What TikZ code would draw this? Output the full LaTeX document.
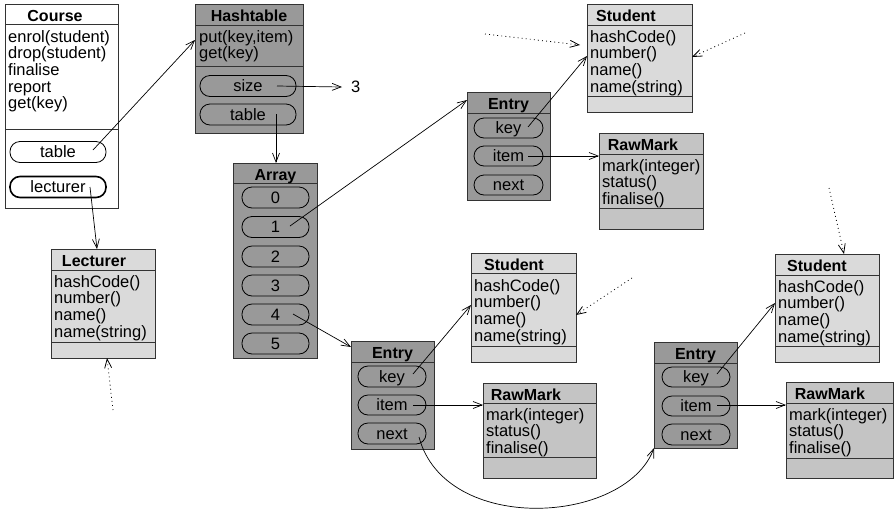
\documentclass[tikz,border=0pt]{standalone}
\usepackage{fontspec}
\setmainfont{Liberation Sans}
\usetikzlibrary{arrows.meta}
\definecolor{dk}{gray}{0.6}
\definecolor{lt}{gray}{0.855}
\definecolor{md}{gray}{0.77}
\definecolor{ln}{gray}{0.2}
\begin{document}
\begin{tikzpicture}[x=1pt,y=-1pt,
  box/.style={draw=ln, line width=1pt, inner sep=0pt, outer sep=0pt, anchor=north west},
  sepline/.style={draw=ln, line width=1pt},
  ttl/.style={font=\bfseries\fontsize{16}{17}\selectfont, anchor=base, inner sep=0pt},
  body/.style={font=\fontsize{16.5}{16.7}\selectfont, anchor=base west, align=left, inner sep=0pt},
  pill/.style={draw=black, line width=0.8pt, rounded corners=10pt, minimum height=21pt,
    inner sep=0pt, text height=12pt, text depth=1pt, font=\fontsize{16.5}{16.7}\selectfont},
  conn/.style={line width=0.7pt, -{Straight Barb[length=9pt,width=7pt]}},
  dotconn/.style={line width=0.8pt, dash pattern=on 0.9pt off 3.2pt, -{Straight Barb[length=9pt,width=7pt]}}
]
\useasboundingbox (0,0) rectangle (894,512);

% ---------- Course ----------
\node[box, fill=white, minimum width=113pt, minimum height=204pt] (course) at (5,4) {};
\draw[sepline] (5,24) -- (118,24);
\draw[sepline] (5,129) -- (118,129);
\node[ttl] (courseT) at (55,21) {Course};
\node[body] (courseB) at (8,108.8) {enrol(student)\\drop(student)\\finalise\\report\\get(key)};
\node[pill, minimum width=96pt] (ctable) at (58,152) {table};
\node[pill, minimum width=96pt, line width=1.6pt] (clect) at (58,187) {lecturer};

% ---------- Hashtable ----------
\node[box, fill=dk, minimum width=108pt, minimum height=129pt] (ht) at (195,4) {};
\draw[sepline] (195,25) -- (303,25);
\draw[sepline] (195,66) -- (303,66);
\node[ttl] (htT) at (249,21) {Hashtable};
\node[body] (htB) at (199,58.7) {put(key,item)\\get(key)};
\node[pill, minimum width=96pt] (hsize) at (248,86) {size};
\node[pill, minimum width=96pt] (htable) at (248,114.5) {table};
\node[font=\fontsize{16.5}{16.7}\selectfont, anchor=west, inner sep=0pt] (three) at (351,87) {3};

% ---------- Array ----------
\node[box, fill=dk, minimum width=84pt, minimum height=195pt] (arr) at (233,163) {};
\draw[sepline] (233,183) -- (317,183);
\node[ttl] (arrT) at (275.5,180) {Array};
\node[pill, minimum width=67pt] (a0) at (275.5,197.5) {0};
\node[pill, minimum width=67pt] (a1) at (275.5,227) {1};
\node[pill, minimum width=67pt] (a2) at (275.5,256.5) {2};
\node[pill, minimum width=67pt] (a3) at (275.5,285.5) {3};
\node[pill, minimum width=67pt] (a4) at (275.5,314.5) {4};
\node[pill, minimum width=67pt] (a5) at (275.5,343.5) {5};

% ---------- Lecturer ----------
\node[box, fill=lt, minimum width=104pt, minimum height=109pt] (lect) at (51,249) {};
\draw[sepline] (51,270) -- (155,270);
\draw[sepline] (51,342) -- (155,342);
\node[ttl] (lectT) at (94,266) {Lecturer};
\node[body] (lectB) at (54,337.1) {hashCode()\\number()\\name()\\name(string)};

% ---------- Entry 1 ----------
\node[box, fill=dk, minimum width=83pt, minimum height=108pt] (ent1) at (467,92) {};
\draw[sepline] (467,113) -- (550,113);
\node[ttl] (ent1T) at (508.5,109) {Entry};
\node[pill, minimum width=69pt, minimum height=20pt] (k1) at (508.5,128) {key};
\node[pill, minimum width=69pt, minimum height=20pt] (i1) at (508.5,156) {item};
\node[pill, minimum width=69pt, minimum height=20pt] (n1) at (508.5,185) {next};

% ---------- Student 1 ----------
\node[box, fill=lt, minimum width=105pt, minimum height=108pt] (stu1) at (587,4) {};
\draw[sepline] (587,25) -- (692,25);
\draw[sepline] (587,96) -- (692,96);
\node[ttl] (stu1T) at (626,21) {Student};
\node[body] (stu1B) at (590,92.1) {hashCode()\\number()\\name()\\name(string)};

% ---------- RawMark 1 ----------
\node[box, fill=md, minimum width=104pt, minimum height=96pt] (rm1) at (599,133) {};
\draw[sepline] (599,154) -- (703,154);
\draw[sepline] (599,208) -- (703,208);
\node[ttl] (rm1T) at (643,150) {RawMark};
\node[body] (rm1B) at (602,204.4) {mark(integer)\\status()\\finalise()};

% ---------- Entry 2 ----------
\node[box, fill=dk, minimum width=83pt, minimum height=108pt] (ent2) at (351,341) {};
\draw[sepline] (351,362) -- (434,362);
\node[ttl] (ent2T) at (392.5,358) {Entry};
\node[pill, minimum width=68pt] (k2) at (392,376.5) {key};
\node[pill, minimum width=68pt, minimum height=20pt] (i2) at (392,405) {item};
\node[pill, minimum width=68pt] (n2) at (392,433.5) {next};

% ---------- Student 2 ----------
\node[box, fill=lt, minimum width=105pt, minimum height=109pt] (stu2) at (471,253) {};
\draw[sepline] (471,273) -- (576,273);
\draw[sepline] (471,346) -- (576,346);
\node[ttl] (stu2T) at (514,270) {Student};
\node[body] (stu2B) at (474,341.1) {hashCode()\\number()\\name()\\name(string)};

% ---------- RawMark 2 ----------
\node[box, fill=md, minimum width=113pt, minimum height=95pt] (rm2) at (483,383) {};
\draw[sepline] (483,403) -- (596,403);
\draw[sepline] (483,457) -- (596,457);
\node[ttl] (rm2T) at (526,400) {RawMark};
\node[body] (rm2B) at (486,453.4) {mark(integer)\\status()\\finalise()};

% ---------- Entry 3 ----------
\node[box, fill=dk, minimum width=83pt, minimum height=106pt] (ent3) at (654,342) {};
\draw[sepline] (654,363) -- (737,363);
\node[ttl] (ent3T) at (695.5,359) {Entry};
\node[pill, minimum width=68pt, minimum height=20pt] (k3) at (696,377) {key};
\node[pill, minimum width=68pt, minimum height=20pt] (i3) at (696,406) {item};
\node[pill, minimum width=68pt] (n3) at (696,434.5) {next};

% ---------- Student 3 ----------
\node[box, fill=lt, minimum width=104pt, minimum height=108pt] (stu3) at (775,254) {};
\draw[sepline] (775,275) -- (879,275);
\draw[sepline] (775,346) -- (879,346);
\node[ttl] (stu3T) at (817,271) {Student};
\node[body] (stu3B) at (778,342.1) {hashCode()\\number()\\name()\\name(string)};

% ---------- RawMark 3 ----------
\node[box, fill=md, minimum width=107pt, minimum height=96pt] (rm3) at (786,382) {};
\draw[sepline] (786,403) -- (893,403);
\draw[sepline] (786,458) -- (893,458);
\node[ttl] (rm3T) at (830,399) {RawMark};
\node[body] (rm3B) at (789,453.4) {mark(integer)\\status()\\finalise()};

% ---------- connector start points ----------
\coordinate (sT) at (93,150);
\coordinate (sL) at (90,187);
\coordinate (sLd) at (113,410);
\coordinate (sSize) at (277,86);
\coordinate (sTab) at (276,114);
\coordinate (sA1) at (290,226);
\coordinate (sA4) at (293,314);
\coordinate (sK1) at (528,127);
\coordinate (sI1) at (528,156);
\coordinate (sD1) at (485,34);
\coordinate (sD2) at (745,33);
\coordinate (sK2) at (413,374);
\coordinate (sI2) at (413,405);
\coordinate (sN2) at (419,437);
\coordinate (sD3) at (632,278);
\coordinate (sK3) at (717,374);
\coordinate (sI3) at (717,405);
\coordinate (sD4) at (829,188);

% ---------- connectors ----------
\draw[conn] (sT) -- ([yshift=-36pt]ht.north west);
\draw[conn] (sL) -- ([xshift=46pt]lect.north west);
\draw[dotconn] (sLd) -- ([xshift=56pt]lect.south west);
\draw[conn] (sSize) -- ([xshift=-9pt]three.west);
\draw[conn] (sTab) -- ([xshift=43pt]arr.north west);
\draw[conn] (sA1) -- ([yshift=-8pt]ent1.north west);
\draw[conn] (sK1) -- ([yshift=-52pt]stu1.north west);
\draw[conn] (sI1) -- ([yshift=-23pt]rm1.north west);
\draw[dotconn] (sD1) -- ([xshift=-7pt,yshift=-41pt]stu1.north west);
\draw[dotconn] (sD2) -- ([yshift=-53pt]stu1.north east);
\draw[conn] (sA4) -- ([yshift=-6pt]ent2.north west);
\draw[conn] (sK2) -- ([yshift=-52pt]stu2.north west);
\draw[conn] (sI2) -- ([yshift=-22pt]rm2.north west);
\draw[dotconn] (sD3) -- ([yshift=-62pt]stu2.north east);
\draw[conn] (sN2) .. controls (445,535) and (625,525) .. (ent3.south west);
\draw[dotconn] (sD4) -- ([xshift=69pt]stu3.north west);
\draw[conn] (sK3) -- ([yshift=-49pt]stu3.north west);
\draw[conn] (sI3) -- ([yshift=-23pt]rm3.north west);
\end{tikzpicture}
\end{document}
